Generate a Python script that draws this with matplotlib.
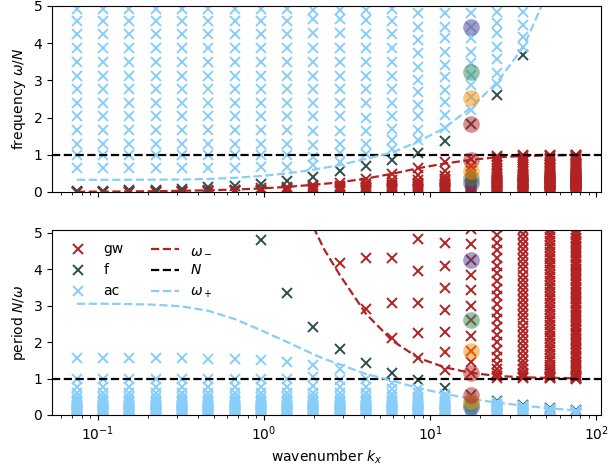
#!/bin/python3

# library imports
from typing import List
import numpy as np
import matplotlib
matplotlib.use('Agg')
import matplotlib.pyplot as plt

# colours of the three mode families
c_gw: str = 'firebrick'
c_f: str = 'darkslategray'
c_ac: str = 'lightskyblue'

# horizontal wavenumbers of the computed columns
kx: List[float] = [0.075, 0.108, 0.155, 0.223, 0.321, 0.462, 0.665, 0.957, 1.38, 1.98,
                   2.85, 4.10, 5.90, 8.50, 12.2, 17.6, 25.3, 36.4, 52.4, 75.4]

# f-mode frequency omega/N, one per column
f_omega: List[float] = [0.02, 0.03, 0.045, 0.06, 0.085, 0.13, 0.165, 0.209, 0.298, 0.415,
                        0.555, 0.70, 0.86, 1.05, 1.36, 1.82, 2.60, 3.68, 5.30, 7.70]

# acoustic modes, frequency omega/N (high frequency tail shared by most columns)
ac_tail: List[float] = [5.3, 5.7, 6.1, 6.6, 7.2, 7.9, 8.7, 9.6, 11.0, 12.5, 14.5, 17.0,
                        20.0, 25.0, 32.0, 45.0]
ac_low: List[float] = [1.0, 1.3, 1.66, 2.03, 2.4, 2.76, 3.12, 3.5, 3.87, 4.25, 4.6, 4.92]
ac_omega: List[List[float]] = [
    [0.645] + ac_low + ac_tail,
    [0.645] + ac_low + ac_tail,
    [0.645] + ac_low + ac_tail,
    [0.645] + ac_low + ac_tail,
    [0.645] + ac_low + ac_tail,
    [0.65] + ac_low + ac_tail,
    [0.655] + ac_low + ac_tail,
    [0.665] + ac_low + ac_tail,
    [0.685] + ac_low + ac_tail,
    [0.73, 0.95, 1.26, 1.64, 2.03, 2.38, 2.76, 3.12, 3.5, 3.88, 4.27, 4.64, 4.89] + ac_tail,
    [0.80, 1.05, 1.3, 1.64, 2.03, 2.4, 2.76, 3.12, 3.5, 3.88, 4.27, 4.64, 4.9] + ac_tail,
    [1.02, 1.3, 1.64, 2.0, 2.38, 2.76, 3.12, 3.5, 3.88, 4.25, 4.62, 4.9] + ac_tail,
    [1.15, 1.4, 1.7, 2.03, 2.4, 2.76, 3.12, 3.5, 3.88, 4.25, 4.6, 4.92] + ac_tail,
    [1.4, 1.67, 2.03, 2.34, 2.7, 3.0, 3.37, 3.73, 4.09, 4.44, 4.8] + ac_tail,
    [1.71, 2.07, 2.43, 2.74, 3.1, 3.41, 3.77, 4.13, 4.44, 4.8] + ac_tail,
    [2.2, 2.56, 2.88, 3.14, 3.46, 3.77, 4.13, 4.44, 4.8] + ac_tail,
    [2.9, 3.2, 3.57, 3.9, 4.27, 4.55, 4.85] + ac_tail,
    [3.9, 4.17, 4.49, 4.85] + ac_tail,
    [5.9, 6.3, 6.8, 7.4, 8.1, 9.0, 10.0, 11.5, 13.0, 15.0, 18.0, 22.0, 28.0, 40.0],
    [9.0, 9.6, 10.3, 11.0, 12.0, 13.5, 15.0, 17.0, 20.0, 25.0, 32.0, 45.0],
]

# gravity modes, period N/omega
gw_period: List[List[float]] = [
    [134, 190, 265, 370],
    [93, 130, 185, 260],
    [65, 92, 130, 180],
    [45, 64, 90, 125],
    [31, 44, 62, 86, 120],
    [22, 31, 43, 60, 85],
    [15.2, 21.5, 30, 42, 60],
    [10.6, 15, 21, 29, 40],
    [7.4, 10.5, 14.5, 20, 28, 40],
    [5.3, 7.6, 10.5, 14.5, 20, 30],
    [4.16, 6.0, 8.0, 10.5, 14, 19, 28],
    [2.9, 4.3, 5.7, 7.2, 9.0, 11.5, 15, 20, 30],
    [2.1, 3.08, 4.3, 5.4, 6.6, 8.0, 9.8, 12, 15, 20, 30],
    [1.56, 2.25, 3.07, 3.95, 4.83, 5.7, 6.7, 7.8, 9.2, 11, 13.5, 17, 23, 35],
    [1.24, 1.74, 2.27, 2.89, 3.48, 4.09, 4.71, 5.3, 5.9, 6.6, 7.4, 8.4, 9.6, 11, 13, 16,
     20, 27, 40],
    [1.14, 1.45, 1.76, 2.16, 2.59, 2.98, 3.42, 3.84, 4.25, 4.69, 5.1, 5.5, 6.0, 6.6, 7.3,
     8.2, 9.3, 11, 13, 16, 20, 28, 45],
    [1.02, 1.07, 1.15, 1.26, 1.4, 1.58, 1.78, 1.99, 2.2, 2.41, 2.62, 2.83, 3.04, 3.25,
     3.46, 3.67, 3.88, 4.09, 4.3, 4.51, 4.72, 4.93, 5.14, 5.5, 5.9, 6.4, 7.0, 7.8, 8.8,
     10, 12, 15, 20, 30],
    [1.01, 1.04, 1.09, 1.16, 1.25, 1.36, 1.48, 1.61, 1.75, 1.89, 2.03, 2.17, 2.31, 2.45,
     2.59, 2.73, 2.87, 3.01, 3.15, 3.29, 3.43, 3.57, 3.71, 3.85, 3.99, 4.13, 4.27, 4.41,
     4.55, 4.69, 4.83, 4.97, 5.11, 5.4, 5.8, 6.3, 7.0, 8.0, 9.5, 11.5, 14, 18, 25, 40],
    [1.005, 1.02, 1.045, 1.08, 1.12, 1.17, 1.23, 1.30, 1.38, 1.47, 1.57, 1.67, 1.77, 1.87,
     1.97, 2.07, 2.17, 2.27, 2.37, 2.47, 2.57, 2.67, 2.77, 2.87, 2.97, 3.07, 3.17, 3.27,
     3.37, 3.47, 3.57, 3.67, 3.77, 3.87, 3.97, 4.07, 4.17, 4.27, 4.37, 4.47, 4.57, 4.67,
     4.77, 4.87, 4.97, 5.07, 5.3, 5.6, 6.0, 6.5, 7.2, 8.0, 9.0, 10.5, 12.5, 15, 19, 26, 40],
    [1.0, 1.01, 1.025, 1.045, 1.07, 1.10, 1.14, 1.18, 1.23, 1.29, 1.35, 1.42, 1.49, 1.56,
     1.63, 1.70, 1.77, 1.84, 1.91, 1.98, 2.05, 2.12, 2.19, 2.26, 2.33, 2.40, 2.47, 2.54,
     2.61, 2.68, 2.75, 2.82, 2.89, 2.96, 3.03, 3.10, 3.17, 3.24, 3.31, 3.38, 3.45, 3.52,
     3.59, 3.66, 3.73, 3.80, 3.87, 3.94, 4.01, 4.08, 4.15, 4.22, 4.29, 4.36, 4.43, 4.50,
     4.57, 4.64, 4.71, 4.78, 4.85, 4.92, 4.99, 5.06, 5.2, 5.4, 5.7, 6.0, 6.4, 6.9, 7.5,
     8.3, 9.3, 10.5, 12, 14, 17, 21, 28, 40],
]

# branch curves omega_-/N and omega_+/N
line_k: List[float] = [0.075, 0.108, 0.155, 0.223, 0.321, 0.462, 0.665, 0.957, 1.38, 1.98,
                       2.3, 2.85, 4.10, 5.90, 8.50, 12.2, 17.6, 25.3, 36.4, 52.4, 75.4]
omega_minus: List[float] = [0.008, 0.011, 0.016, 0.022, 0.032, 0.046, 0.066, 0.095, 0.137,
                            0.194, 0.22, 0.26, 0.36, 0.49, 0.64, 0.765, 0.865, 0.935,
                            0.968, 0.985, 0.993]
omega_plus: List[float] = [0.328, 0.328, 0.329, 0.331, 0.336, 0.35, 0.38, 0.43, 0.50, 0.60,
                           0.65, 0.72, 0.89, 1.06, 1.36, 1.72, 2.27, 2.95, 3.90, 5.50, 8.00]

# highlighted modes at kx = 17.6 (gravity and acoustic partner share a colour)
mark_k: float = 17.6
mark_colors: List[str] = ['darkslateblue', 'seagreen', 'darkorange', 'firebrick']
mark_gw: List[float] = [0.235, 0.386, 0.568, 0.87]
mark_ac: List[float] = [4.44, 3.23, 2.52, 1.82]


def flatten(values: List[List[float]]):
    xs, ys = [], []
    for k, col in zip(kx, values):
        xs += [k] * len(col)
        ys += list(col)
    # end for
    return np.array(xs), np.array(ys)
# end flatten()


def main() -> None:
    fig = plt.figure(figsize=(6.08, 4.70), dpi=100)
    ax1 = fig.add_axes([52 / 608, 1 - 192 / 470, 549 / 608, 186 / 470])
    ax2 = fig.add_axes([52 / 608, 1 - 415 / 470, 549 / 608, 185 / 470], sharex=ax1)

    gx, gp = flatten(gw_period)
    ax, aw = flatten(ac_omega)
    fk = np.array(kx)
    fw = np.array(f_omega)
    lk = np.array(line_k)
    wm = np.array(omega_minus)
    wp = np.array(omega_plus)

    mk = dict(ms=7, mew=1.4, ls='none')
    # top: frequency, bottom: period
    for axis, inv in ((ax1, False), (ax2, True)):
        g_y = gp if inv else 1 / gp
        a_y = 1 / aw if inv else aw
        f_y = 1 / fw if inv else fw
        axis.plot(gx, g_y, 'x', color=c_gw, label='gw', **mk)
        axis.plot(fk, f_y, 'x', color=c_f, label='f', **mk)
        axis.plot(ax, a_y, 'x', color=c_ac, label='ac', **mk)
        axis.plot(lk, 1 / wm if inv else wm, '--', color=c_gw, lw=1.6, label=r'$\omega_-$')
        axis.axhline(1, ls='--', color='k', lw=1.6, label=r'$N$')
        axis.plot(lk, 1 / wp if inv else wp, '--', color=c_ac, lw=1.6, label=r'$\omega_+$')
        for c, wg, wa in zip(mark_colors, mark_gw, mark_ac):
            for w in (wg, wa):
                axis.plot([mark_k], [1 / w if inv else w], 'o', color=c, alpha=0.5,
                          ms=12, mew=0)
            # end for
        # end for
    # end for

    ax1.set_xscale('log')
    ax1.set_ylim(0, 5)
    ax2.set_ylim(0, 5.07)
    ax1.set_yticks([0, 1, 2, 3, 4, 5])
    ax2.set_yticks([0, 1, 2, 3, 4, 5])
    ax1.tick_params(labelbottom=False)
    ax1.set_ylabel(r'frequency $\omega/N$')
    ax2.set_ylabel(r'period $N/\omega$')
    ax2.set_xlabel(r'wavenumber $k_x$')
    ax2.legend(loc='upper left', ncol=2, frameon=False)

    fig.savefig('out.png', dpi=100)
# end main()


if __name__ == "__main__":
    main()
# end if
